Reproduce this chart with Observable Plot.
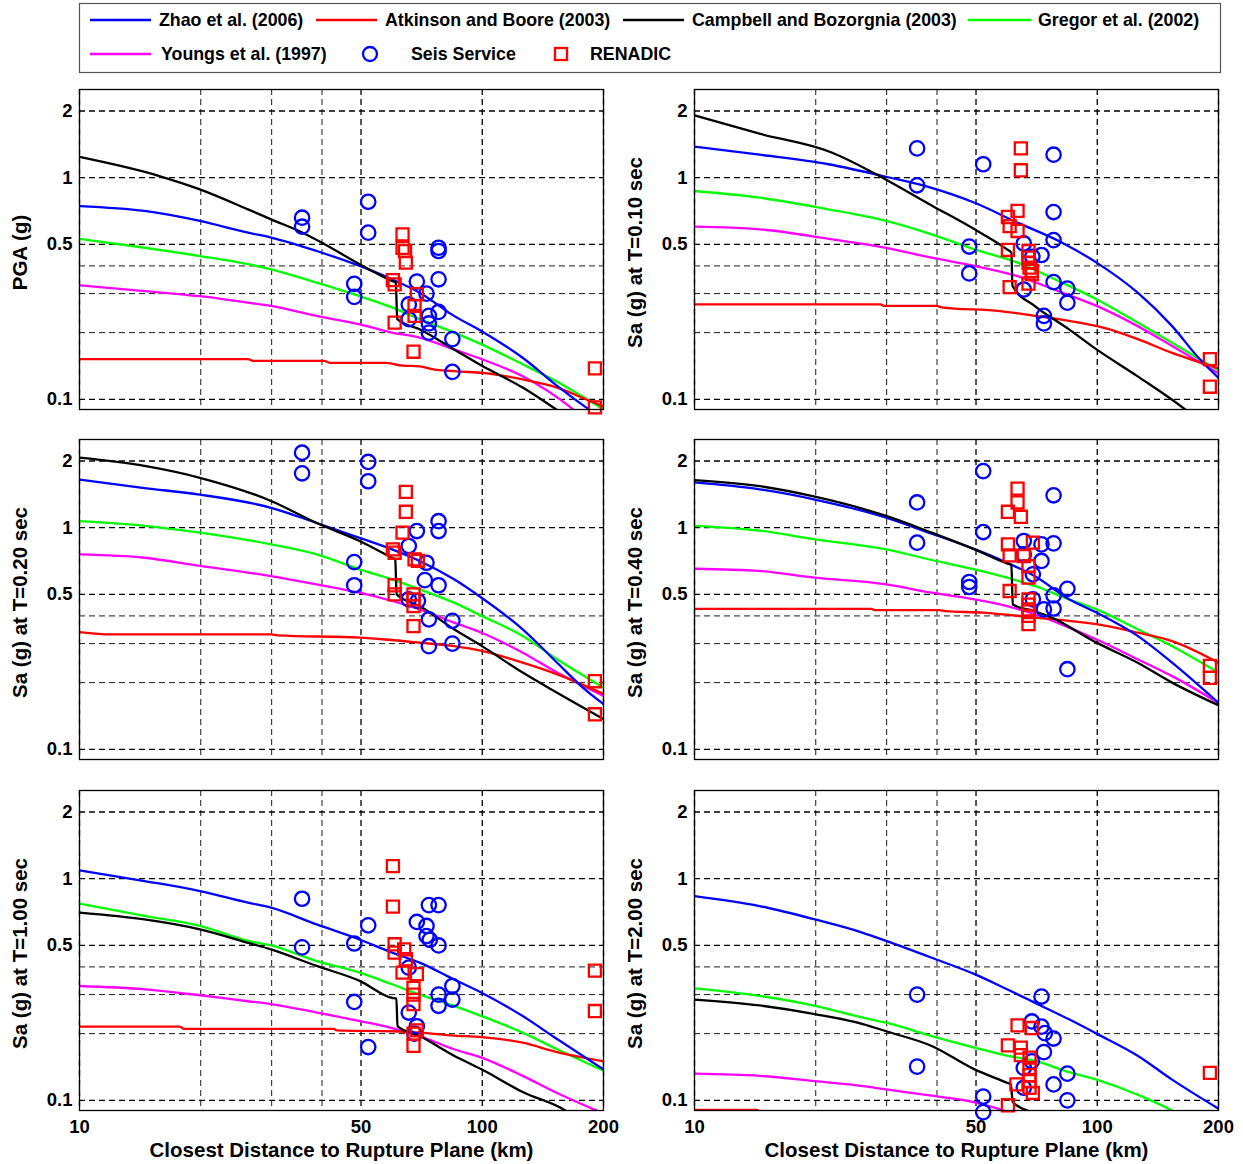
<!DOCTYPE html>
<html><head><meta charset="utf-8">
<script src="https://cdn.jsdelivr.net/npm/d3@7"></script>
<script src="https://cdn.jsdelivr.net/npm/@observablehq/plot@0.6"></script>
<style>
body{margin:0;background:#fff;}
#root{position:relative;width:1243px;height:1164px;font-family:"Liberation Sans",Arial,sans-serif;overflow:hidden;}
#root svg{position:absolute;overflow:visible;}
</style></head><body><div id="root"></div>
<script>
// ---------- axis ticks ----------
const xTicks = [10, 50, 100, 200];
const xMinor = [20, 30, 40];
const yTicks = [0.1, 0.5, 1, 2];
const yMinor = [0.2, 0.3, 0.4];
const xLabel = "Closest Distance to Rupture Plane (km)";
const yLabels = ["PGA (g)", "Sa (g) at T=0.10 sec", "Sa (g) at T=0.20 sec", "Sa (g) at T=0.40 sec", "Sa (g) at T=1.00 sec", "Sa (g) at T=2.00 sec"];
const modelNames = ["Zhao et al. (2006)", "Atkinson and Boore (2003)", "Campbell and Bozorgnia (2003)", "Gregor et al. (2002)", "Youngs et al. (1997)"];
const dataNames = ["Seis Service", "RENADIC"];

// ---------- PGA ----------
const pgaZhao = [[10,0.745],[14.5,0.708],[19.9,0.638],[26.2,0.565],[29.9,0.537],[38.8,0.467],[49.6,0.40],[59.7,0.348],[69.9,0.303],[85.1,0.238],[99.6,0.203],[126,0.154],[153.4,0.115],[179.5,0.093],[190,0.087]];
const pgaAB = [[10,0.152],[26.2,0.152],[27,0.149],[40.5,0.149],[42,0.146],[57.4,0.146],[63.4,0.142],[69.9,0.141],[75,0.137],[85.1,0.134],[103,0.131],[126,0.123],[153.4,0.113],[186,0.098],[200,0.093]];
const pgaCB = [[10,1.24],[15.7,1.02],[19.9,0.886],[26.2,0.72],[29.9,0.649],[35.8,0.565],[40,0.509],[49.6,0.407],[59.7,0.342],[61,0.336],[61.5,0.23],[69.9,0.207],[85.1,0.168],[99.6,0.142],[126,0.113],[153.4,0.0895],[160,0.085]];
const pgaGregor = [[10,0.53],[14.5,0.483],[19.9,0.443],[26.2,0.407],[29.9,0.386],[38.8,0.336],[49.6,0.292],[59.7,0.26],[69.9,0.23],[85.1,0.20],[99.6,0.177],[126,0.144],[153.4,0.12],[200,0.09]];
const pgaYoungs = [[10,0.327],[14.5,0.308],[19.9,0.292],[26.2,0.273],[29.9,0.264],[38.8,0.238],[49.6,0.218],[59.7,0.20],[69.9,0.19],[85.1,0.168],[99.6,0.152],[126,0.127],[169,0.0895],[175,0.085]];
const pgaSeis = [[52.1,0.779],[35.7,0.66],[35.7,0.601],[52.1,0.565],[77.9,0.483],[77.9,0.467],[48.1,0.332],[48.1,0.29],[68.8,0.34],[77.9,0.348],[72.7,0.30],[65.7,0.268],[77.9,0.248],[73.7,0.238],[73.7,0.22],[73.7,0.2],[84.3,0.187],[84.3,0.133],[65.7,0.23]];
const pgaRenadic = [[63.4,0.555],[63.4,0.483],[64.3,0.467],[64.6,0.414],[60,0.345],[60.6,0.33],[68.8,0.298],[67.9,0.264],[67.9,0.238],[60.6,0.222],[67.5,0.164],[190.4,0.138],[190.4,0.092]];

// ---------- T = 0.10 s ----------
const t010Zhao = [[10,1.38],[14.5,1.27],[21.5,1.15],[29.9,1.01],[38.8,0.90],[49.6,0.771],[63.4,0.627],[81.8,0.509],[99.6,0.414],[126,0.303],[153.4,0.214],[179.5,0.152],[200,0.125]];
const t010AB = [[10,0.268],[29,0.268],[29.5,0.264],[40,0.264],[41,0.26],[57.4,0.25],[69.9,0.238],[85.1,0.226],[104,0.21],[126,0.187],[153.4,0.162],[200,0.138]];
const t010CB = [[10,1.91],[14.5,1.58],[21.9,1.30],[29.9,0.98],[38.8,0.75],[49.6,0.585],[59.7,0.475],[61.2,0.459],[61.6,0.325],[69.9,0.264],[85.1,0.207],[99.6,0.168],[126,0.127],[166,0.0895],[172,0.085]];
const t010Gregor = [[10,0.871],[14.5,0.813],[21.5,0.72],[29.9,0.638],[38.8,0.555],[49.6,0.475],[63.4,0.414],[81.8,0.336],[99.6,0.283],[126,0.222],[153.4,0.18],[200,0.135]];
const t010Youngs = [[10,0.601],[14.5,0.585],[21.5,0.53],[29.9,0.483],[38.8,0.436],[49.6,0.40],[63.4,0.36],[81.8,0.303],[99.6,0.264],[126,0.214],[153.4,0.174],[200,0.131]];
const t010Seis = [[35.7,1.356],[52.1,1.15],[77.9,1.27],[35.7,0.924],[77.9,0.70],[77.9,0.523],[48.1,0.489],[48.1,0.37],[65.7,0.505],[72.7,0.448],[69,0.44],[65.7,0.313],[77.9,0.338],[84.3,0.316],[84.3,0.273],[73.7,0.238],[73.7,0.22]];
const t010Renadic = [[64.6,1.356],[64.6,1.08],[63.4,0.708],[60,0.665],[60.6,0.605],[63.4,0.575],[60,0.472],[67.5,0.467],[67.5,0.436],[67.5,0.414],[67.9,0.393],[68.8,0.38],[68.8,0.367],[67.5,0.333],[60.6,0.321],[190.4,0.152],[190.4,0.114]];

// ---------- T = 0.20 s ----------
const t020Zhao = [[10,1.65],[14.5,1.51],[19.9,1.41],[29.9,1.23],[38.8,1.05],[49.6,0.90],[59.7,0.798],[69.9,0.708],[85.1,0.585],[99.6,0.483],[126,0.348],[153.4,0.246],[179.5,0.187],[200,0.16]];
const t020AB = [[10,0.338],[12,0.33],[29.9,0.33],[31,0.327],[49.6,0.319],[57.4,0.313],[69.9,0.303],[85.1,0.292],[99.6,0.278],[126,0.246],[153.4,0.218],[200,0.178]];
const t020CB = [[10,2.07],[14.5,1.90],[19.9,1.68],[29.9,1.32],[38.8,1.05],[49.6,0.871],[59.7,0.732],[60.8,0.72],[61.3,0.50],[69.9,0.443],[85.1,0.348],[99.6,0.293],[126,0.222],[153.4,0.18],[200,0.137]];
const t020Gregor = [[10,1.07],[14.5,1.02],[19.9,0.95],[29.9,0.841],[38.8,0.758],[49.6,0.649],[59.7,0.585],[69.9,0.527],[85.1,0.459],[99.6,0.40],[126,0.325],[153.4,0.255],[200,0.19]];
const t020Youngs = [[10,0.758],[14.5,0.732],[19.9,0.672],[29.9,0.605],[38.8,0.555],[49.6,0.509],[59.7,0.467],[69.9,0.428],[85.1,0.373],[99.6,0.336],[126,0.273],[153.4,0.222],[200,0.174]];
const t020Seis = [[35.7,2.18],[35.7,1.76],[52.1,1.98],[52.1,1.62],[48.1,0.70],[48.1,0.55],[77.9,1.07],[77.9,0.966],[68.8,0.966],[65.7,0.827],[72.7,0.695],[72,0.58],[77.9,0.55],[65.7,0.475],[69.2,0.467],[73.7,0.386],[84.3,0.38],[73.7,0.292],[84.3,0.30]];
const t020Renadic = [[64.6,1.45],[64.6,1.18],[63.4,0.95],[60,0.798],[60.6,0.771],[67.9,0.72],[69.2,0.708],[60.6,0.55],[60.6,0.5],[67.5,0.5],[67.5,0.475],[67.5,0.443],[67.5,0.36],[190.4,0.203],[190.4,0.144]];

// ---------- T = 0.40 s ----------
const t040Zhao = [[10,1.60],[14.5,1.49],[19.9,1.34],[29.9,1.11],[38.8,0.94],[49.6,0.80],[59.7,0.695],[69.9,0.605],[85.1,0.475],[99.6,0.414],[126,0.325],[153.4,0.246],[200,0.162]];
const t040AB = [[10,0.43],[27.5,0.43],[28,0.425],[40.5,0.425],[42,0.42],[52,0.414],[69.9,0.393],[85.1,0.38],[99.6,0.367],[126,0.336],[153.4,0.308],[200,0.246]];
const t040CB = [[10,1.64],[14.5,1.54],[19.9,1.38],[29.9,1.13],[38.8,0.95],[49.6,0.798],[59.7,0.69],[61.2,0.68],[61.7,0.45],[69.9,0.42],[77,0.393],[99.6,0.303],[126,0.246],[153.4,0.2],[200,0.158]];
const t040Gregor = [[10,1.02],[14.5,0.97],[19.9,0.886],[29.9,0.798],[38.8,0.715],[49.6,0.649],[59.7,0.595],[69.9,0.546],[85.1,0.475],[99.6,0.428],[126,0.348],[153.4,0.292],[200,0.222]];
const t040Youngs = [[10,0.653],[14.5,0.638],[19.9,0.595],[29.9,0.555],[38.8,0.509],[49.6,0.475],[59.7,0.443],[69.9,0.407],[85.1,0.354],[99.6,0.313],[126,0.255],[153.4,0.214],[200,0.162]];
const t040Seis = [[52.1,1.80],[35.7,1.30],[77.9,1.40],[35.7,0.856],[52.1,0.956],[65.7,0.871],[72.7,0.841],[77.9,0.85],[72.7,0.708],[65.7,0.758],[69.2,0.616],[48.1,0.569],[48.1,0.54],[84.3,0.53],[77.9,0.495],[69.2,0.475],[73.7,0.428],[77.9,0.432],[84.3,0.23]];
const t040Renadic = [[63.4,1.5],[63.4,1.30],[60,1.18],[64.6,1.12],[60,0.841],[60.6,0.75],[69.2,0.856],[65.7,0.745],[67.5,0.671],[67.5,0.595],[60.6,0.518],[67.5,0.475],[67.5,0.45],[67.5,0.428],[67.5,0.4],[67.5,0.367],[190.4,0.238],[190.4,0.21]];

// ---------- T = 1.00 s ----------
const t100Zhao = [[10,1.09],[14.5,0.976],[19.9,0.88],[26.2,0.78],[29.9,0.74],[38.8,0.622],[49.6,0.532],[59.7,0.464],[69.9,0.418],[85.1,0.351],[99.6,0.306],[126,0.24],[153.4,0.189],[200,0.138]];
const t100AB = [[10,0.215],[17.7,0.215],[18.2,0.21],[42.8,0.21],[43.5,0.207],[59.7,0.205],[69.9,0.202],[85.1,0.196],[99.6,0.193],[126,0.182],[153.4,0.165],[200,0.15]];
const t100CB = [[10,0.703],[14.5,0.655],[19.9,0.591],[26.2,0.514],[29.9,0.48],[38.8,0.404],[49.6,0.346],[59.7,0.29],[61.2,0.288],[61.6,0.216],[69.9,0.195],[85.1,0.159],[99.6,0.138],[126,0.109],[162.7,0.0887],[168,0.085]];
const t100Gregor = [[10,0.771],[14.5,0.679],[19.9,0.612],[26.2,0.524],[29.9,0.5],[38.8,0.425],[49.6,0.377],[59.7,0.334],[69.9,0.30],[85.1,0.267],[99.6,0.24],[126,0.202],[153.4,0.17],[200,0.136]];
const t100Youngs = [[10,0.328],[14.5,0.317],[19.9,0.298],[26.2,0.28],[29.9,0.272],[38.8,0.249],[49.6,0.228],[59.7,0.212],[69.9,0.195],[85.1,0.17],[99.6,0.156],[126,0.129],[153.4,0.108],[200,0.0873]];
const t100Seis = [[35.7,0.812],[35.7,0.49],[52.1,0.616],[48.1,0.51],[48.1,0.278],[52.1,0.174],[68.8,0.638],[73.7,0.76],[77.9,0.76],[72.7,0.612],[72.7,0.551],[74.1,0.53],[77.9,0.5],[65.7,0.397],[84.3,0.328],[84.3,0.285],[77.9,0.30],[77.9,0.267],[65.7,0.249],[68.8,0.216],[67.9,0.2]];
const t100Renadic = [[60,1.14],[60,0.748],[60.6,0.506],[60.6,0.464],[64,0.48],[64.6,0.433],[63.4,0.377],[68.8,0.371],[67.5,0.322],[67.5,0.30],[67.5,0.272],[68.8,0.207],[67.5,0.2],[67.5,0.176],[190.4,0.385],[190.4,0.253]];

// ---------- T = 2.00 s ----------
const t200Zhao = [[10,0.835],[14.5,0.753],[19.9,0.655],[26.2,0.57],[29.9,0.524],[38.8,0.44],[49.6,0.371],[59.7,0.317],[69.9,0.276],[85.1,0.232],[99.6,0.2],[126,0.159],[153.4,0.124],[200,0.0917]];
const t200AB = [[10,0.0905],[14.3,0.0905],[14.6,0.087]];
const t200CB = [[10,0.285],[14.5,0.268],[19.9,0.245],[26.2,0.221],[29.9,0.205],[38.8,0.176],[49.6,0.138],[59.7,0.12],[61,0.118],[61.7,0.098],[69.9,0.0873],[72,0.085]];
const t200Gregor = [[10,0.32],[14.5,0.296],[19.9,0.267],[26.2,0.236],[29.9,0.224],[38.8,0.195],[49.6,0.173],[59.7,0.159],[69.9,0.151],[85.1,0.134],[99.6,0.124],[126,0.106],[158,0.0873],[162,0.085]];
const t200Youngs = [[10,0.132],[14.5,0.129],[19.9,0.122],[26.2,0.116],[29.9,0.112],[38.8,0.105],[49.6,0.098],[61,0.0873],[63,0.085]];
const t200Seis = [[35.7,0.30],[35.7,0.142],[52.1,0.104],[52.1,0.0885],[72.7,0.294],[68.8,0.227],[72.7,0.215],[74.1,0.201],[77.9,0.19],[73.7,0.165],[65.7,0.14],[68.8,0.15],[84.3,0.132],[77.9,0.118],[84.3,0.1],[65.7,0.114]];
const t200Renadic = [[63.4,0.218],[68.8,0.212],[60,0.177],[64.6,0.173],[64.6,0.16],[67.9,0.156],[67.9,0.14],[67.9,0.13],[67.9,0.122],[63,0.118],[67.9,0.114],[69.2,0.108],[60,0.095],[190.4,0.133]];

// ---------- styles ----------
const modelColors = ["#0000ff", "#ff0000", "#000000", "#00ff00", "#ff00ff"];
const seisColor = "#0000ff", renadicColor = "#ff0000";

const panels = [
  {curves: [pgaZhao, pgaAB, pgaCB, pgaGregor, pgaYoungs], seis: pgaSeis, ren: pgaRenadic},
  {curves: [t010Zhao, t010AB, t010CB, t010Gregor, t010Youngs], seis: t010Seis, ren: t010Renadic},
  {curves: [t020Zhao, t020AB, t020CB, t020Gregor, t020Youngs], seis: t020Seis, ren: t020Renadic},
  {curves: [t040Zhao, t040AB, t040CB, t040Gregor, t040Youngs], seis: t040Seis, ren: t040Renadic},
  {curves: [t100Zhao, t100AB, t100CB, t100Gregor, t100Youngs], seis: t100Seis, ren: t100Renadic},
  {curves: [t200Zhao, t200AB, t200CB, t200Gregor, t200Youngs], seis: t200Seis, ren: t200Renadic}
];

const root = document.getElementById("root");
const FONT = "'Liberation Sans', Arial, Helvetica, sans-serif";
const colLeft = [79, 694], rowTop = [89, 439, 790];
const PW = 524, PH = 320, ML = 79, MT = 6, MR = 12;
const toObj = a => a.map(([d, v]) => ({d, v}));
const order = [3, 4, 1, 0, 2]; // draw order: gregor, youngs, AB, zhao, CB

panels.forEach((p, i) => {
  const col = i % 2, row = Math.floor(i / 2);
  const bottom = row === 2;
  const MB = bottom ? 64 : 10;
  const marks = [
    Plot.ruleX(xMinor, {stroke: "#000", strokeWidth: 0.9, strokeDasharray: "6,4"}),
    Plot.ruleY(yMinor, {stroke: "#000", strokeWidth: 0.9, strokeDasharray: "6,4"}),
    Plot.ruleX(xTicks, {stroke: "#000", strokeWidth: 1.3, strokeDasharray: "6,4"}),
    Plot.ruleY(yTicks, {stroke: "#000", strokeWidth: 1.3, strokeDasharray: "6,4"}),
    ...order.map(k => Plot.line(toObj(p.curves[k]), {x: "d", y: "v", stroke: modelColors[k], strokeWidth: 2.3, curve: "monotone-x", clip: true})),
    Plot.dot(toObj(p.seis), {x: "d", y: "v", r: 7.2, stroke: seisColor, strokeWidth: 2.3, fill: "none"}),
    Plot.dot(toObj(p.ren), {x: "d", y: "v", symbol: "square", r: 6.8, stroke: renadicColor, strokeWidth: 2.3, fill: "none"}),
    Plot.frame({stroke: "#000", strokeWidth: 1.3}),
    Plot.axisY({ticks: yTicks, tickSize: 0, tickPadding: 7, fontSize: 18.5, fontWeight: "bold", tickFormat: d => String(d), label: null}),
    Plot.text([yLabels[i]], {frameAnchor: "left", textAnchor: "middle", rotate: -90, dx: -59, dy: 3, fontSize: 20.5, fontWeight: "bold", fill: "#000"})
  ];
  if (bottom) {
    marks.push(Plot.axisX({ticks: xTicks, tickSize: 0, tickPadding: 9, fontSize: 18.5, fontWeight: "bold", tickFormat: d => String(d), label: null}));
    marks.push(Plot.text([xLabel], {frameAnchor: "bottom", dy: 46, fontSize: 20.5, fontWeight: "bold", fill: "#000"}));
  }
  const svg = Plot.plot({
    width: ML + PW + MR, height: MT + PH + MB,
    marginLeft: ML, marginTop: MT, marginRight: MR, marginBottom: MB,
    x: {type: "log", domain: [10, 200], axis: null},
    y: {type: "log", domain: [0.09, 2.5], axis: null},
    style: {fontFamily: FONT, fontWeight: "bold", fontSize: "18px", color: "#000", background: "transparent"},
    marks
  });
  svg.style.left = (colLeft[col] - ML) + "px";
  svg.style.top = (rowTop[row] - MT) + "px";
  root.appendChild(svg);
});

// ---------- legend ----------
const LFS = 17.8;
const lg = d3.select(root).append("svg").attr("width", 1243).attr("height", 80)
  .style("left", "0px").style("top", "0px").style("font-family", FONT);
lg.append("rect").attr("x", 79.5).attr("y", 3.5).attr("width", 1141).attr("height", 69)
  .attr("fill", "#fff").attr("stroke", "#555").attr("stroke-width", 1.2);
const lineItems = [
  {x0: 90, x1: 151, tx: 159, y: 20, k: 0},
  {x0: 316, x1: 377, tx: 385, y: 20, k: 1},
  {x0: 623, x1: 684, tx: 692, y: 20, k: 2},
  {x0: 968, x1: 1031, tx: 1038, y: 20, k: 3},
  {x0: 90, x1: 151, tx: 161, y: 54, k: 4}
];
lineItems.forEach(it => {
  lg.append("line").attr("x1", it.x0).attr("x2", it.x1).attr("y1", it.y).attr("y2", it.y)
    .attr("stroke", modelColors[it.k]).attr("stroke-width", 2.5);
  lg.append("text").attr("x", it.tx).attr("y", it.y).attr("dy", "0.35em")
    .attr("font-size", LFS).attr("font-weight", "bold").text(modelNames[it.k]);
});
lg.append("circle").attr("cx", 370).attr("cy", 54).attr("r", 7).attr("fill", "none")
  .attr("stroke", seisColor).attr("stroke-width", 2.3);
lg.append("text").attr("x", 411).attr("y", 54).attr("dy", "0.35em")
  .attr("font-size", LFS).attr("font-weight", "bold").text(dataNames[0]);
lg.append("rect").attr("x", 555).attr("y", 48).attr("width", 12).attr("height", 12).attr("fill", "none")
  .attr("stroke", renadicColor).attr("stroke-width", 2.3);
lg.append("text").attr("x", 590).attr("y", 54).attr("dy", "0.35em")
  .attr("font-size", LFS).attr("font-weight", "bold").text(dataNames[1]);
</script>
</body></html>
